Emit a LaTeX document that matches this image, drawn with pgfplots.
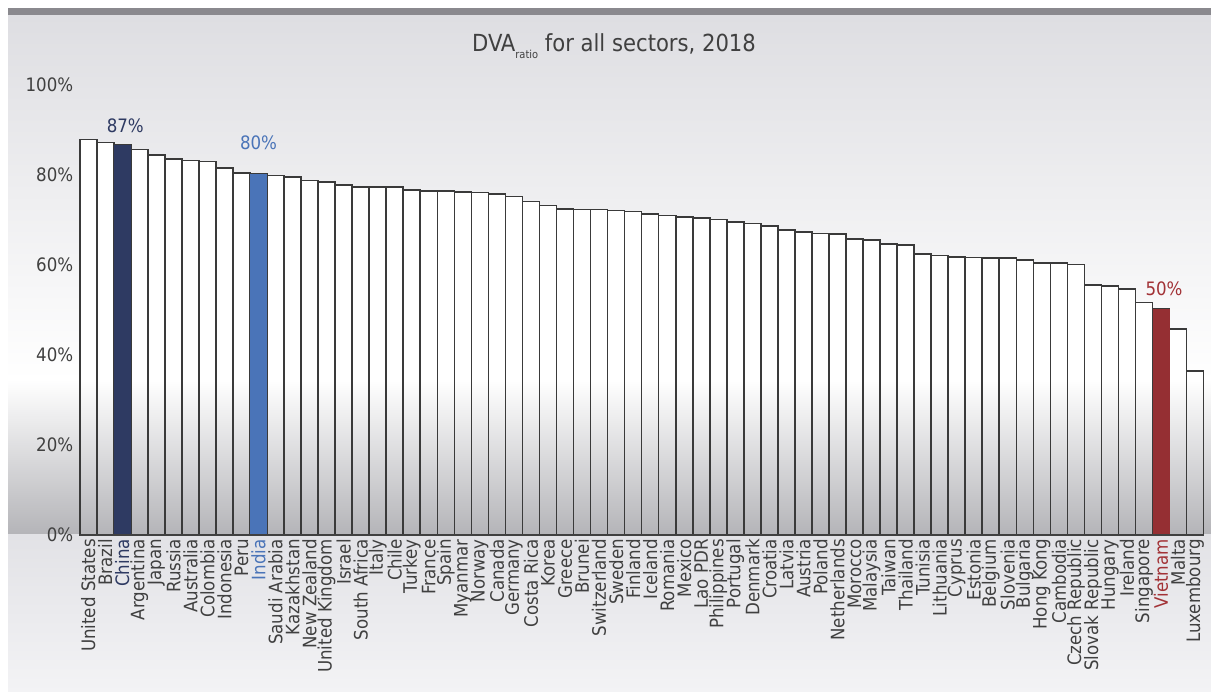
\documentclass[border=0pt]{standalone}
\usepackage{pgfplots}
\pgfplotsset{compat=1.18}
\usepackage{pgfplotstable}
\usepackage{fontspec}
\setmainfont{DejaVu Sans Condensed}
\definecolor{chinac}{HTML}{2E3A62}
\definecolor{indiac}{HTML}{4A74B8}
\definecolor{vietc}{HTML}{952F33}
\definecolor{vietlab}{HTML}{A23236}
\definecolor{txt}{HTML}{404040}
\definecolor{outl}{HTML}{3A3A3A}
\definecolor{topbar}{HTML}{8A898E}
\definecolor{bgtop}{HTML}{DEDEE2}
\definecolor{bgbot}{HTML}{B4B4B8}
\definecolor{bglowa}{HTML}{E2E2E6}
\definecolor{bglowb}{HTML}{F3F3F5}

\pgfplotstableread{
x y
0 87.9
1 87.2
2 86.6
3 85.7
4 84.4
5 83.5
6 83.2
7 83.0
8 81.6
9 80.5
10 80.2
11 79.9
12 79.6
13 78.8
14 78.5
15 77.8
16 77.3
17 77.3
18 77.3
19 76.7
20 76.4
21 76.4
22 76.2
23 76.1
24 75.8
25 75.2
26 74.1
27 73.2
28 72.5
29 72.3
30 72.3
31 72.1
32 71.9
33 71.3
34 71.0
35 70.7
36 70.4
37 70.1
38 69.6
39 69.2
40 68.7
41 67.8
42 67.3
43 67.0
44 66.9
45 65.8
46 65.6
47 64.7
48 64.5
49 62.4
50 62.1
51 61.8
52 61.7
53 61.6
54 61.5
55 61.1
56 60.5
57 60.4
58 60.1
59 55.6
60 55.3
61 54.6
62 51.7
63 50.2
64 45.8
65 36.4
}\dvatable

\begin{document}
\begin{tikzpicture}
\useasboundingbox (0,0) rectangle (1211bp,692bp);
\fill[white] (0,0) rectangle (1211bp,692bp);
\fill[topbar] (8bp,676bp) rectangle (1211bp,684bp);
\shade[top color=bgtop, bottom color=white] (8bp,312bp) rectangle (1211bp,676bp);
\shade[top color=white, bottom color=bgbot] (8bp,157bp) rectangle (1211bp,312.2bp);
\shade[top color=bglowa, bottom color=bglowb] (8bp,0bp) rectangle (1211bp,157bp);
\node[font=\fontsize{23.5bp}{27bp}\selectfont, text=txt] at (614bp,646bp)
  {DVA\raisebox{-0.3em}{\fontsize{11bp}{12bp}\selectfont ratio} for all sectors, 2018};

\begin{axis}[
  at={(79.7bp,157bp)}, anchor=south west,
  scale only axis, width=1124bp, height=450bp,
  xmin=-0.5, xmax=65.5, ymin=0, ymax=100,
  axis on top, clip=false,
  axis x line*=bottom, axis y line*=left,
  axis line style={-},
  x axis line style={draw=txt, line width=2.7bp, -},
  y axis line style={draw=none},
  major tick length=0pt,
  xtick={0,...,65},
  xticklabels={United States, Brazil, {\color{chinac}China}, Argentina, Japan, Russia, Australia, Colombia, Indonesia, Peru, {\color{indiac}India}, Saudi Arabia, Kazakhstan, New Zealand, United Kingdom, Israel, South Africa, Italy, Chile, Turkey, France, Spain, Myanmar, Norway, Canada, Germany, Costa Rica, Korea, Greece, Brunei, Switzerland, Sweden, Finland, Iceland, Romania, Mexico, Lao PDR, Philippines, Portugal, Denmark, Croatia, Latvia, Austria, Poland, Netherlands, Morocco, Malaysia, Taiwan, Thailand, Tunisia, Lithuania, Cyprus, Estonia, Belgium, Slovenia, Bulgaria, Hong Kong, Cambodia, Czech Republic, Slovak Republic, Hungary, Ireland, Singapore, {\color{vietlab}Vietnam}, Malta, Luxembourg},
  xticklabel style={rotate=90, anchor=east, font=\fontsize{18.5bp}{20bp}\selectfont, text=txt, inner sep=4bp},
  ytick={0,20,40,60,80,100},
  yticklabels={0\%,20\%,40\%,60\%,80\%,100\%},
  yticklabel style={font=\fontsize{18.5bp}{21bp}\selectfont, text=txt, xshift=-3bp},
]
\addplot[ybar, bar width=1, bar shift=0pt, fill=white, draw=none] table[x=x, y=y] {\dvatable};
\shade[top color=white, bottom color=bgbot] (axis cs:-0.5,0) rectangle (axis cs:65.5,34.44);
\addplot[ybar, bar width=1, bar shift=0pt, fill=none, draw=outl, line width=1.6bp] table[x=x, y=y] {\dvatable};
\addplot[ybar, bar width=1, bar shift=0pt, fill=chinac, draw=none,
  nodes near coords={87\%},
  every node near coord/.append style={anchor=center, yshift=20bp, xshift=3bp, text=chinac, font=\fontsize{18.5bp}{21bp}\selectfont}]
  coordinates {(2,86.6)};
\addplot[ybar, bar width=1, bar shift=0pt, fill=indiac, draw=none,
  nodes near coords={80\%},
  every node near coord/.append style={anchor=center, yshift=31bp, text=indiac, font=\fontsize{18.5bp}{21bp}\selectfont}]
  coordinates {(10,80.2)};
\addplot[ybar, bar width=1, bar shift=0pt, fill=vietc, draw=none,
  nodes near coords={50\%},
  every node near coord/.append style={anchor=center, yshift=20bp, xshift=3bp, text=vietlab, font=\fontsize{18.5bp}{21bp}\selectfont}]
  coordinates {(63,50.2)};
\end{axis}
\end{tikzpicture}
\end{document}
